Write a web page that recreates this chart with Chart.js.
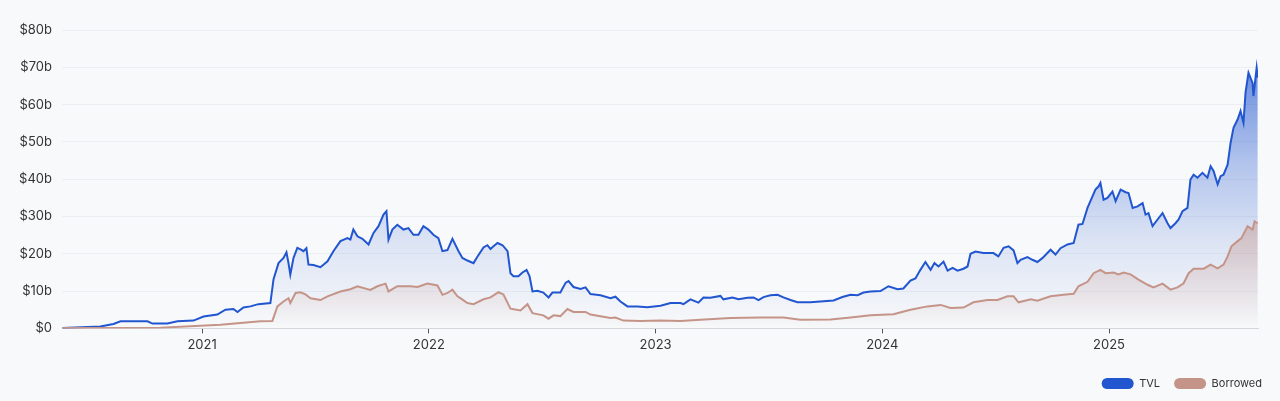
<!DOCTYPE html>
<html>
<head>
    <meta charset="utf-8">
    <script src="https://cdn.jsdelivr.net/npm/chart.js"></script>
    <style>
        html, body { margin: 0; padding: 0; background: #f8f9fa; }
        #chartBox { width: 1280px; height: 401px; }
    </style>
</head>
<body>
<div id="chartBox">
    <canvas id="tvlChart" width="1280" height="401"></canvas>
</div>

<script>
    // time in decimal years, values in $ billions
    const tvlYears = [
        2020.384, 2020.551, 2020.609, 2020.640, 2020.759, 2020.781, 2020.847, 2020.891, 2020.962, 2021.006,
        2021.067, 2021.103, 2021.138, 2021.156, 2021.182, 2021.213, 2021.248, 2021.301, 2021.315, 2021.337,
        2021.359, 2021.372, 2021.381, 2021.389, 2021.403, 2021.420, 2021.434, 2021.447, 2021.460, 2021.469,
        2021.491, 2021.522, 2021.553, 2021.579, 2021.610, 2021.641, 2021.654, 2021.667, 2021.685, 2021.707,
        2021.734, 2021.756, 2021.778, 2021.800, 2021.813, 2021.822, 2021.839, 2021.861, 2021.888, 2021.910,
        2021.932, 2021.954, 2021.976, 2021.998, 2022.020, 2022.042, 2022.060, 2022.082, 2022.104, 2022.131,
        2022.148, 2022.170, 2022.197, 2022.214, 2022.241, 2022.258, 2022.272, 2022.285, 2022.303, 2022.325,
        2022.347, 2022.360, 2022.373, 2022.395, 2022.413, 2022.431, 2022.444, 2022.457, 2022.479, 2022.505,
        2022.528, 2022.545, 2022.580, 2022.603, 2022.616, 2022.638, 2022.669, 2022.691, 2022.713, 2022.757,
        2022.801, 2022.823, 2022.845, 2022.876, 2022.920, 2022.964, 2023.022, 2023.066, 2023.110, 2023.123,
        2023.154, 2023.189, 2023.211, 2023.242, 2023.286, 2023.299, 2023.339, 2023.366, 2023.405, 2023.432,
        2023.454, 2023.476, 2023.507, 2023.538, 2023.564, 2023.595, 2023.626, 2023.683, 2023.741, 2023.785,
        2023.824, 2023.860, 2023.891, 2023.917, 2023.948, 2023.992, 2024.027, 2024.067, 2024.093, 2024.124,
        2024.146, 2024.168, 2024.190, 2024.213, 2024.230, 2024.248, 2024.270, 2024.288, 2024.310, 2024.332,
        2024.358, 2024.376, 2024.389, 2024.411, 2024.446, 2024.490, 2024.512, 2024.535, 2024.557, 2024.579,
        2024.596, 2024.610, 2024.640, 2024.662, 2024.684, 2024.707, 2024.742, 2024.764, 2024.786, 2024.817,
        2024.844, 2024.865, 2024.883, 2024.905, 2024.927, 2024.940, 2024.954, 2024.962, 2024.976, 2024.993,
        2025.015, 2025.029, 2025.051, 2025.073, 2025.086, 2025.104, 2025.126, 2025.148, 2025.161, 2025.174,
        2025.192, 2025.214, 2025.236, 2025.258, 2025.271, 2025.293, 2025.307, 2025.324, 2025.346, 2025.359,
        2025.373, 2025.390, 2025.412, 2025.434, 2025.448, 2025.461, 2025.479, 2025.492, 2025.505, 2025.523,
        2025.536, 2025.549, 2025.567, 2025.580, 2025.593, 2025.602, 2025.615, 2025.633, 2025.637, 2025.651,
        2025.656
    ];
    const tvlValues = [
        0.1, 0.5, 1.2, 1.9, 1.9, 1.3, 1.3, 1.9, 2.1, 3.2,
        3.7, 5.0, 5.2, 4.4, 5.6, 5.9, 6.5, 6.8, 13.2, 17.5,
        18.9, 20.4, 17.5, 14.4, 18.9, 21.6, 21.2, 20.7, 21.5, 17.1,
        17.0, 16.4, 18.0, 20.7, 23.4, 24.2, 23.8, 26.5, 24.7, 24.0,
        22.5, 25.6, 27.4, 30.5, 31.4, 23.8, 26.5, 27.8, 26.5, 26.9,
        25.1, 25.1, 27.4, 26.5, 25.1, 24.2, 20.7, 21.0, 24.0, 20.7,
        18.9, 18.2, 17.5, 19.2, 21.7, 22.3, 21.3, 22.0, 22.9, 22.3,
        20.7, 14.8, 14.0, 14.0, 15.0, 15.7, 14.0, 9.9, 10.1, 9.6,
        8.3, 9.6, 9.6, 12.2, 12.7, 11.1, 10.6, 11.0, 9.2, 8.9,
        8.1, 8.5, 7.2, 5.9, 5.9, 5.7, 6.1, 6.8, 6.8, 6.5,
        7.8, 6.9, 8.3, 8.2, 8.7, 7.8, 8.3, 7.8, 8.2, 8.3,
        7.6, 8.4, 8.9, 9.0, 8.3, 7.6, 7.0, 7.0, 7.3, 7.5,
        8.4, 9.0, 8.9, 9.6, 9.9, 10.0, 11.3, 10.5, 10.7, 12.8,
        13.4, 15.7, 17.8, 15.7, 17.5, 16.6, 17.9, 15.5, 16.2, 15.5,
        16.0, 16.6, 20.0, 20.6, 20.2, 20.2, 19.3, 21.6, 22.0, 20.9,
        17.5, 18.4, 19.1, 18.4, 17.8, 18.9, 21.1, 19.8, 21.5, 22.5,
        22.9, 27.8, 28.0, 32.3, 35.4, 37.2, 38.1, 39.0, 34.5, 35.0,
        36.7, 34.1, 37.2, 36.5, 36.3, 32.3, 32.7, 33.6, 30.5, 30.9,
        27.4, 29.2, 30.9, 28.2, 26.9, 28.2, 29.2, 31.4, 32.3, 39.9,
        41.2, 40.4, 41.7, 40.4, 43.5, 42.2, 38.6, 40.8, 41.2, 43.9,
        49.7, 53.8, 56.0, 58.3, 55.1, 63.2, 68.5, 65.8, 62.3, 69.9,
        67.2
    ];

    const borrowedYears = [
        2020.384, 2020.816, 2021.081, 2021.257, 2021.310, 2021.332, 2021.359, 2021.381, 2021.389, 2021.412,
        2021.434, 2021.456, 2021.478, 2021.522, 2021.553, 2021.610, 2021.654, 2021.685, 2021.742, 2021.773,
        2021.809, 2021.822, 2021.861, 2021.919, 2021.950, 2021.994, 2022.038, 2022.060, 2022.082, 2022.104,
        2022.126, 2022.139, 2022.170, 2022.197, 2022.241, 2022.272, 2022.307, 2022.329, 2022.360, 2022.404,
        2022.435, 2022.457, 2022.505, 2022.528, 2022.550, 2022.580, 2022.611, 2022.638, 2022.691, 2022.713,
        2022.801, 2022.823, 2022.858, 2022.933, 2023.022, 2023.110, 2023.198, 2023.330, 2023.463, 2023.564,
        2023.639, 2023.771, 2023.860, 2023.948, 2024.049, 2024.124, 2024.199, 2024.257, 2024.301, 2024.358,
        2024.402, 2024.464, 2024.508, 2024.552, 2024.579, 2024.601, 2024.655, 2024.684, 2024.742, 2024.799,
        2024.844, 2024.865, 2024.905, 2024.932, 2024.962, 2024.985, 2025.020, 2025.042, 2025.064, 2025.095,
        2025.130, 2025.170, 2025.196, 2025.236, 2025.271, 2025.302, 2025.329, 2025.351, 2025.373, 2025.417,
        2025.448, 2025.479, 2025.505, 2025.523, 2025.540, 2025.567, 2025.584, 2025.611, 2025.633, 2025.642,
        2025.656
    ];
    const borrowedValues = [
        0.1, 0.2, 1.0, 1.9, 2.0, 5.9, 7.2, 8.1, 6.8, 9.5,
        9.7, 9.1, 8.1, 7.6, 8.6, 9.9, 10.5, 11.3, 10.3, 11.3,
        12.0, 9.9, 11.3, 11.3, 11.1, 12.0, 11.5, 9.0, 9.5, 10.4,
        8.6, 8.1, 6.8, 6.5, 7.8, 8.3, 9.7, 9.1, 5.3, 4.8,
        6.5, 4.1, 3.5, 2.6, 3.5, 3.3, 5.2, 4.4, 4.4, 3.7,
        2.8, 2.9, 2.1, 2.0, 2.1, 2.0, 2.3, 2.8, 2.9, 2.9,
        2.3, 2.4, 2.9, 3.5, 3.8, 5.0, 5.9, 6.3, 5.5, 5.6,
        7.0, 7.6, 7.6, 8.6, 8.6, 7.0, 7.8, 7.4, 8.6, 9.0,
        9.3, 11.3, 12.5, 14.8, 15.7, 14.8, 15.0, 14.5, 15.0, 14.5,
        13.1, 11.7, 11.0, 12.0, 10.4, 11.0, 12.1, 14.8, 16.0, 16.0,
        17.1, 16.1, 17.1, 19.3, 22.0, 23.4, 24.2, 27.4, 26.5, 28.7,
        28.2
    ];

    const yearTicks = [2021, 2022, 2023, 2024, 2025];
    const xRange = [2020.382, 2025.657];
    const yMax = 80;
    const yStep = 10;

    const TVL_COLOR = 'rgb(33, 86, 208)';
    const BORROWED_COLOR = 'rgb(197, 148, 136)';

    const toPoints = (xs, ys) => xs.map((x, i) => ({x: x, y: ys[i]}));

    // vertical fade under each line, relative to the chart area
    const makeFill = (rgb, stops) => (ctx) => {
        const area = ctx.chart.chartArea;
        if (!area) return 'rgba(0,0,0,0)';
        const g = ctx.chart.ctx.createLinearGradient(0, area.top, 0, area.bottom);
        stops.forEach(([pos, alpha]) => g.addColorStop(pos, `rgba(${rgb}, ${alpha})`));
        return g;
    };

    const chart = new Chart(document.getElementById('tvlChart'), {
        type: 'line',
        data: {
            datasets: [
                {
                    label: 'TVL',
                    data: toPoints(tvlYears, tvlValues),
                    borderColor: TVL_COLOR,
                    backgroundColor: makeFill('33, 86, 208', [[0, 0.8], [0.45, 0.32], [0.72, 0.12], [1, 0.0]]),
                    borderWidth: 2,
                    pointRadius: 0,
                    tension: 0,
                    fill: 'origin',
                    order: 1
                },
                {
                    label: 'Borrowed',
                    data: toPoints(borrowedYears, borrowedValues),
                    borderColor: BORROWED_COLOR,
                    backgroundColor: makeFill('197, 148, 136', [[0, 0.75], [0.6, 0.55], [0.85, 0.18], [1, 0.0]]),
                    borderWidth: 2,
                    pointRadius: 0,
                    tension: 0,
                    fill: 'origin',
                    order: 0
                }
            ]
        },
        options: {
            responsive: false,
            animation: false,
            devicePixelRatio: 1,
            layout: {
                padding: {top: 30, right: 4, bottom: 2, left: 0}
            },
            scales: {
                x: {
                    type: 'linear',
                    min: xRange[0],
                    max: xRange[1],
                    afterBuildTicks: (scale) => {
                        scale.ticks = yearTicks.map((v) => ({value: v}));
                    },
                    afterFit: (scale) => { scale.height += 7; },
                    ticks: {
                        callback: (v) => String(Math.round(v)),
                        color: '#333',
                        font: {family: 'Inter', size: 13},
                        padding: 4,
                        maxRotation: 0
                    },
                    grid: {
                        drawOnChartArea: false,
                        drawTicks: true,
                        tickLength: 5,
                        tickColor: '#555'
                    },
                    border: {color: '#d3d6da'}
                },
                y: {
                    min: 0,
                    max: yMax,
                    afterFit: (scale) => { scale.width = 62; },
                    ticks: {
                        stepSize: yStep,
                        callback: (v) => v === 0 ? '$0' : '$' + v + 'b',
                        color: '#333',
                        font: {family: 'Inter', size: 13},
                        padding: 10
                    },
                    grid: {
                        color: '#eceef1',
                        drawTicks: false
                    },
                    border: {display: false}
                },
                // empty right gutter so the legend can sit further right than the plot
                gutter: {
                    position: 'right',
                    afterFit: (scale) => { scale.width = 18; },
                    ticks: {display: false},
                    grid: {display: false, drawTicks: false},
                    border: {display: false}
                }
            },
            plugins: {
                legend: {
                    position: 'bottom',
                    align: 'end',
                    labels: {
                        boxWidth: 32,
                        boxHeight: 11,
                        useBorderRadius: true,
                        borderRadius: 5.5,
                        color: '#333',
                        font: {family: 'Inter', size: 11},
                        padding: 14,
                        generateLabels: (c) => c.data.datasets.map((ds, i) => ({
                            text: ds.label,
                            fillStyle: ds.borderColor,
                            strokeStyle: ds.borderColor,
                            lineWidth: 0,
                            borderRadius: 5.5,
                            datasetIndex: i,
                            fontColor: '#333'
                        }))
                    }
                },
                tooltip: {enabled: false}
            }
        }
    });
</script>
</body>
</html>
